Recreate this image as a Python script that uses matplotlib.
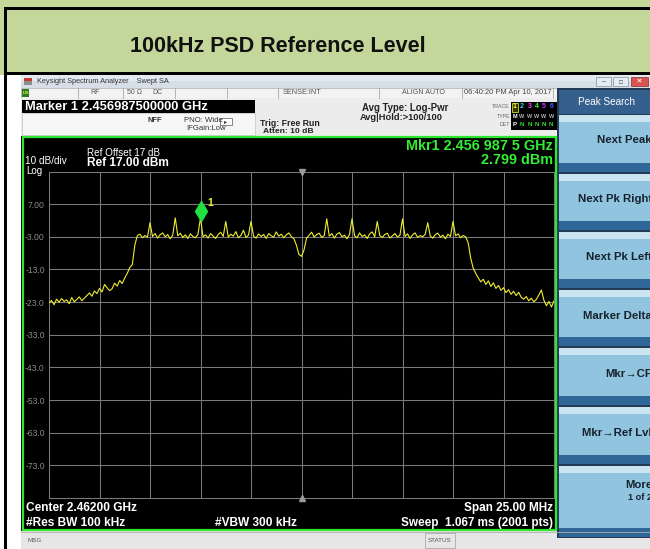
import matplotlib
matplotlib.use("Agg")
import matplotlib.pyplot as plt
import matplotlib.patches as mpatches
from matplotlib.transforms import offset_copy
import numpy as np

plt.rcParams['font.family'] = ['Liberation Sans', 'DejaVu Sans']

# ---- data ----
title = "100kHz PSD Reference Level"
center_ghz = 2.462
span_ghz = 0.025
ref_level = 17.0
db_per_div = 10
mkr_freq = 2.4569875
mkr_level = 2.799

# trace level (dBm), one value every 0.125 MHz across the 25 MHz span
levels = [
    -23.2, -22.5, -23.8, -22.1, -23.0, -21.9, -22.8, -22.3, -23.5, -21.6,
    -22.9, -22.2, -21.4, -22.6, -21.8,
    -21.0, -20.2, -21.2, -19.6, -20.4, -18.8, -19.9, -17.6, -18.6, -19.5,
    -18.9, -17.2, -18.1, -16.4, -17.3, -15.6, -14.2, -12.4, -11.5, -5.5, -2.6,
    -2.2, -3.3, -2.6, -3.1, 1.3, -2.9, -2.0, -3.4, -2.4, -1.8,
    -3.0, -2.3, -3.6, -2.5, 2.8, -2.7, -1.9, -3.2, -2.4, -3.5,
    -2.1, -2.9, -3.3, -2.2, 2.8, -3.0, -2.4, -3.4, -2.0, -2.8,
    -3.5, -2.3, -1.6, -2.9, 1.7, -3.1, -2.2, -2.8, -1.4, -3.3,
    -2.6, -1.0, -3.2, -2.5, 1.7, -2.8, -3.4, -2.1, -2.9, -2.3,
    -3.5, -2.0, -2.7, -3.1, -1.5, -2.8, -2.2, -3.3, -2.4, -1.8,
    -3.0, -3.6, -5.6, -8.4, -9.0, -7.0, -3.4, -2.5, -1.6, -3.1,
    -2.3, -1.9, -3.2, -2.6, 2.5, -2.8, -2.0, -3.4, -2.2, -1.7,
    -3.0, -2.5, -3.6, -2.3, 2.5, -2.7, -3.3, -1.8, -2.9, -2.4,
    -3.5, -2.1, -1.5, -3.0, 1.7, -2.6, -3.2, -2.3, -1.9, -3.4,
    -2.7, -2.0, -3.1, -2.5, 2.5, -2.9, -2.1, -3.5, -2.4, -1.8,
    -3.2, -2.6, -3.0, -2.2, 1.3, -2.8, -3.4, -2.3, -1.9, -3.1,
    -2.5, -3.6, -2.2, -2.9, 1.7, -2.7, -2.1, -3.3, -2.6,
    -3.0, -4.8, -9.5, -12.6, -14.2, -15.6, -16.8, -16.0, -17.6, -16.5,
    -18.2, -17.1, -18.8, -17.9, -19.4, -18.6, -20.1, -19.2, -20.6, -19.7,
    -21.0, -20.0, -21.5, -22.1, -21.3, -22.6, -21.8, -22.9, -22.2, -20.8,
    -19.3, -22.4, -24.1, -22.8, -24.5, -22.6,
]

ytick_labels = ["7.00", "-3.00", "-13.0", "-23.0", "-33.0",
                "-43.0", "-53.0", "-63.0", "-73.0"]

softkeys = ["Next Peak", "Next Pk Right", "Next Pk Left", "Marker Delta",
            "Mkr\u2192CF", "Mkr\u2192Ref Lvl", "More"]

trace_nums = ["1", "2", "3", "4", "5", "6"]
trace_cols = ["#ffff30", "#20e0ff", "#ff40ff", "#40ff40", "#c040ff", "#4060ff"]

W, H = 650, 549

fig = plt.figure(figsize=(W / 100, H / 100), dpi=100)

# background axes in pixel coordinates (y grows downward)
bg = fig.add_axes([0, 0, 1, 1])
bg.set_xlim(0, W)
bg.set_ylim(H, 0)
bg.axis('off')


def box(x0, y0, x1, y1, fc, ec='none', lw=0, z=1):
    bg.add_patch(mpatches.Rectangle((x0, y0), x1 - x0, y1 - y0,
                                    fc=fc, ec=ec, lw=lw, zorder=z))


def label(x, y, s, size=6, color='#222222', weight='normal', ha='left', **kw):
    bg.text(x, y, s, fontsize=size, color=color, fontweight=weight,
            ha=ha, va='center', zorder=5, **kw)


# banner with title
box(0, 0, W, 75, '#c4d79b')
box(4, 7, W, 9.5, 'black', z=2)
box(4, 71.5, W, 74.5, 'black', z=2)
box(3.5, 7, 7, H, 'black', z=2)
box(7, 74.5, 21, H, 'white')
label(278, 47, title, size=15.5, weight='bold', color='#111111', ha='center')

# window title bar
box(21, 74.5, W, 88, '#d6dee8')
box(21, 74.5, W, 81, '#e3e9f0')
box(24, 78, 32, 85, '#8c8c8c')
box(24, 78, 32, 80.5, '#c0392b')
label(37, 81.5, "Keysight Spectrum Analyzer    Swept SA", size=5.3, color='#333333')
box(596, 77, 611, 86, '#e4ebf3', ec='#7f8fa0', lw=0.5)
box(613, 77, 628, 86, '#e4ebf3', ec='#7f8fa0', lw=0.5)
box(631, 77, 648, 86, '#d9534f', ec='#8a2a2a', lw=0.5)
label(603.5, 82, "\u2013", size=5, color='#333333', ha='center')
label(620.5, 82, "\u25a1", size=4.5, color='#333333', ha='center')
label(639.5, 81.5, "\u00d7", size=6, color='white', ha='center', weight='bold')

# status row
box(21, 88, 557, 97.5, '#f3f3f3', ec='#a8a8a8', lw=0.5)
for sx in [78, 123, 175, 227, 278, 379, 462, 553]:
    bg.plot([sx, sx], [88, 97.5], color='#a8a8a8', lw=0.6, zorder=3)
box(22, 89, 29, 96.5, '#2d7a1e', z=3)
label(25.5, 92.8, "LXI", size=3, color='#e8ff40', ha='center', weight='bold')
label(95, 92.8, "RF", size=5, color='#555555', ha='center')
label(134, 92.8, "50 \u03a9", size=5, color='#555555', ha='center')
label(157, 92.8, "DC", size=5, color='#555555', ha='center')
label(283, 92.8, "SENSE:INT", size=5.3, color='#555555')
label(402, 92.8, "ALIGN AUTO", size=5.1, color='#555555')
label(464, 92.8, "06:40:20 PM Apr 10, 2017", size=5.4, color='#444444')

# marker / settings area
box(21, 97.5, 557, 136, '#ececec')
box(22, 100, 255, 113, 'black', z=2)
label(25, 106.5, f"Marker 1 {mkr_freq:.12f} GHz", size=9.3, weight='bold', color='white')
box(22, 113, 255, 135, '#f6f6f6', ec='#c4c4c4', lw=0.5)
label(147, 120, "NFF", size=5.4, weight='bold', color='#333333')
label(184, 120, "PNO: Wide", size=5.6, color='#333333')
label(186, 128, "IFGain:Low", size=5.6, color='#333333')
box(220, 118, 232, 125, 'white', ec='#555555', lw=0.5, z=2)
label(226, 121.5, "\u25b8", size=4.5, color='#333333', ha='center')
label(260, 123, "Trig: Free Run", size=6.3, weight='bold', color='#222222')
label(263, 131.5, "Atten: 10 dB", size=6.1, weight='bold', color='#222222')
label(362, 108, "Avg Type: Log-Pwr", size=6.9, weight='bold', color='#222222')
label(360, 117, "Avg|Hold:>100/100", size=6.7, weight='bold', color='#222222')

# trace / type / det block
label(510, 107, "TRACE", size=3.8, color='#666666', ha='right')
label(510, 116.5, "TYPE", size=3.8, color='#666666', ha='right')
label(510, 124.5, "DET", size=3.8, color='#666666', ha='right')
box(511, 102, 557, 129.5, 'black', z=2)
box(511.5, 102.5, 518, 111.5, '#333300', ec='#ffff30', lw=0.5, z=3)
for i, (n, c) in enumerate(zip(trace_nums, trace_cols)):
    tx = 514.8 + 7.3 * i
    label(tx, 107, n, size=5, color=c, weight='bold', ha='center')
    label(tx, 116.5, "M" if i == 0 else "W", size=4, color='white' if i == 0 else '#b0b0b0',
          ha='center', weight='bold')
    label(tx, 124.5, "P" if i == 0 else "N", size=4.5, color='white' if i == 0 else '#30e030',
          ha='center', weight='bold')

# black display with green frame
box(21, 136, 557, 531, 'black')
bg.add_patch(mpatches.Rectangle((22.5, 136.8), 533.5, 393.5, fc='none',
                                ec='#2ee62e', lw=1.6, zorder=6))
label(87, 152.5, "Ref Offset 17 dB", size=7.1, color='white')
label(87, 163, f"Ref {ref_level:.2f} dBm", size=8.6, weight='bold', color='white')
label(25, 161.5, f"{db_per_div} dB/div", size=7.2, color='white')
label(26, 170.5, "Log", size=7, color='white')

mk = f"{mkr_freq:.7f}"
label(553, 146, f"Mkr1 {mk[:5]} {mk[5:8]} {mk[8:]} GHz", size=10.4, weight='bold',
      color='#33ee33', ha='right')
label(553, 160, f"{mkr_level:.3f} dBm", size=10.4, weight='bold', color='#33ee33', ha='right')

label(26, 508, f"Center {center_ghz:.5f} GHz", size=8.6, weight='bold', color='white')
label(26, 523, "#Res BW 100 kHz", size=8.6, weight='bold', color='white')
label(215, 523, "#VBW 300 kHz", size=8.6, weight='bold', color='white')
label(553, 508, f"Span {span_ghz * 1000:.2f} MHz", size=8.5, weight='bold', color='white', ha='right')
label(553, 523, "Sweep  1.067 ms (2001 pts)", size=8.5, weight='bold', color='white', ha='right')

# bottom message bar
box(21, 531, W, H, '#e6e6e6')
bg.plot([21, W], [531.5, 531.5], color='#b0b0b0', lw=0.6, zorder=3)
label(27, 541, "MSG", size=4.5, color='#555555')
box(425, 533, 455, 548, 'none', ec='#a0a0a0', lw=0.5, z=3)
label(440, 541, "STATUS", size=4.5, color='#555555', ha='center')

# softkey panel
box(557, 88, W, 537.5, '#243a55')
box(559, 90, W, 114, '#355f8d')
label(607, 102, "Peak Search", size=7.2, color='white', ha='center')
tops = [115, 174, 232, 290, 348, 407, 466]
bottoms = [172, 230, 288, 346, 405, 464, 537]
text_y = [140, 199, 257, 316, 374, 433, 485]
for t, b, ty, key in zip(tops, bottoms, text_y, softkeys):
    box(559, t, W, b, '#90c4df')
    box(559, t, W, t + 7, '#cbe4f1')
    box(559, b - 9, W, b, '#2f6798')
    label(652, ty, key, size=8.2, weight='bold', color='#17222e', ha='right')
label(652, 498, "1 of 2", size=6.6, weight='bold', color='#17222e', ha='right')

# ---- spectrum trace ----
f_start = center_ghz - span_ghz / 2
f_stop = center_ghz + span_ghz / 2
freqs = np.linspace(f_start, f_stop, len(levels))
bottom_level = ref_level - 10 * db_per_div

ax = fig.add_axes([49 / W, 1 - 498 / H, 505 / W, (498 - 171.5) / H])
ax.set_facecolor('black')
ax.plot(freqs, levels, color='#eeee30', lw=0.8, zorder=3)
ax.set_xlim(f_start, f_stop)
ax.set_ylim(bottom_level, ref_level)
ax.set_xticks(np.linspace(f_start, f_stop, 11))
ax.set_xticklabels([])
ax.set_yticks([ref_level - db_per_div * (i + 1) for i in range(len(ytick_labels))])
ax.set_yticklabels(ytick_labels)
ax.tick_params(length=0, labelsize=6.2, labelcolor='#8c8c8c', pad=3)
ax.grid(True, color='#7a7a7a', lw=0.75)
for sp in ax.spines.values():
    sp.set_color('#7a7a7a')
    sp.set_linewidth(0.75)

# centre-frequency ticks on top and bottom edges
ax.plot([center_ghz], [ref_level], marker='v', ms=4, color='#9a9a9a', clip_on=False, zorder=4)
ax.plot([center_ghz], [bottom_level], marker='^', ms=4, color='#9a9a9a', clip_on=False, zorder=4)

# marker 1 diamond sits just above the trace point
k = int(np.argmin(np.abs(freqs - mkr_freq)))
tr = offset_copy(ax.transData, fig=fig, x=0, y=5, units='points')
ax.plot(freqs[k], levels[k], marker='d', ms=10, color='#22e040', transform=tr,
        clip_on=False, zorder=5)
ax.annotate("1", (freqs[k], levels[k]), xytext=(5, 11), textcoords='offset points',
            color='#f0f030', fontsize=7.5, fontweight='bold', va='center', zorder=5)

fig.savefig('out.png', dpi=100, facecolor='white')
